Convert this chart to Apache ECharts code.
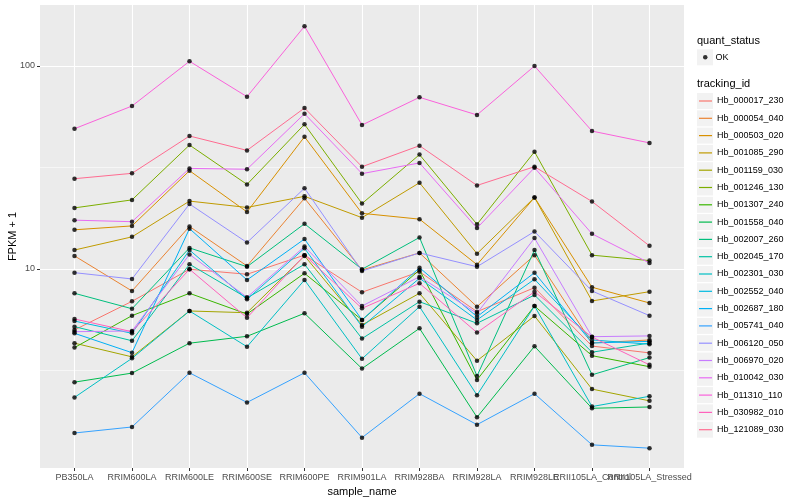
<!DOCTYPE html>
<html><head><meta charset="utf-8">
<script src="https://cdn.jsdelivr.net/npm/echarts@6/dist/echarts.min.js"></script>
<style>html,body{margin:0;padding:0;background:#fff}#c{width:800px;height:500px}</style>
</head><body><div id="c"></div>
<script>
const sampleNames = ['PB350LA','RRIM600LA','RRIM600LE','RRIM600SE','RRIM600PE','RRIM901LA','RRIM928BA','RRIM928LA','RRIM928LE','RRII105LA_Control','RRII105LA_Stressed'];
const trackingIds = ['Hb_000017_230','Hb_000054_040','Hb_000503_020','Hb_001085_290','Hb_001159_030','Hb_001246_130','Hb_001307_240','Hb_001558_040','Hb_002007_260','Hb_002045_170','Hb_002301_030','Hb_002552_040','Hb_002687_180','Hb_005741_040','Hb_006120_050','Hb_006970_020','Hb_010042_030','Hb_011310_110','Hb_030982_010','Hb_121089_030'];
const trackingColors = ['#F8766D','#EA8331','#D89000','#C09B00','#A3A500','#7CAE00','#39B600','#00BB4E','#00BF7D','#00C1A3','#00BFC4','#00BAE0','#00B0F6','#35A2FF','#9590FF','#C77CFF','#E76BF3','#FA62DB','#FF62BC','#FF6C91'];

// FPKM + 1 values per tracking id, one per sample
const hb_000017_230 = [5.01, 6.93, 9.97, 9.42, 11.7, 7.68, 9.70, 6.16, 8.09, 4.17, 3.86];
const hb_000054_040 = [11.6, 7.79, 16.2, 10.35, 22.3, 9.89, 12.0, 6.52, 11.7, 4.32, 4.47];
const hb_000503_020 = [15.6, 16.3, 30.5, 19.1, 44.8, 18.8, 17.6, 10.5, 22.5, 8.13, 6.80];
const hb_001085_290 = [12.4, 14.4, 21.6, 20.1, 22.8, 17.9, 26.6, 11.9, 22.5, 6.96, 7.73];
const hb_001159_030 = [4.31, 3.69, 6.21, 6.09, 11.6, 5.30, 7.59, 3.53, 5.87, 2.56, 2.24];
const hb_001246_130 = [20.0, 21.9, 40.8, 26.1, 51.6, 21.0, 36.6, 16.6, 37.8, 11.7, 11.0];
const hb_001307_240 = [4.10, 5.89, 7.59, 6.00, 9.52, 5.61, 9.89, 2.84, 6.57, 3.74, 3.30];
const hb_001558_040 = [2.77, 3.07, 4.31, 4.66, 6.05, 3.23, 5.10, 1.86, 4.16, 2.06, 2.09];
const hb_002007_260 = [7.59, 6.37, 12.7, 10.26, 16.7, 9.97, 14.3, 2.97, 12.4, 3.01, 3.66];
const hb_002045_170 = [5.20, 4.43, 10.55, 7.20, 10.55, 4.54, 6.90, 5.40, 7.44, 3.89, 4.32];
const hb_002301_030 = [2.33, 3.63, 6.21, 4.14, 8.83, 3.61, 6.52, 2.39, 6.57, 2.10, 2.36];
const hb_002552_040 = [5.54, 4.82, 12.4, 7.09, 12.65, 5.20, 9.00, 5.61, 8.90, 4.47, 4.26];
const hb_002687_180 = [4.82, 3.87, 15.8, 8.83, 14.05, 5.61, 10.15, 5.82, 9.59, 4.32, 4.40];
const hb_005741_040 = [1.556, 1.666, 3.08, 2.20, 3.08, 1.476, 2.43, 1.71, 2.43, 1.36, 1.31];
const hb_006120_050 = [9.59, 8.93, 20.9, 13.5, 25.0, 9.77, 12.0, 10.26, 15.3, 7.79, 5.89];
const hb_006970_020 = [4.91, 4.95, 11.8, 7.25, 12.9, 6.57, 9.16, 6.05, 14.2, 4.64, 4.68];
const hb_010042_030 = [17.4, 17.1, 31.3, 31.0, 58.2, 29.5, 33.3, 15.9, 31.55, 14.9, 10.7];
const hb_011310_110 = [49.1, 63.5, 105.5, 70.6, 157, 51.2, 70.1, 57.4, 100, 47.8, 41.8];
const hb_030982_010 = [5.67, 4.91, 9.97, 5.75, 11.7, 6.40, 8.50, 4.86, 7.73, 4.62, 3.37];
const hb_121089_030 = [27.85, 29.6, 45.2, 38.4, 62.1, 31.9, 40.5, 25.8, 31.9, 21.5, 13.0];

const seriesValues = [hb_000017_230, hb_000054_040, hb_000503_020, hb_001085_290, hb_001159_030, hb_001246_130, hb_001307_240, hb_001558_040, hb_002007_260, hb_002045_170, hb_002301_030, hb_002552_040, hb_002687_180, hb_005741_040, hb_006120_050, hb_006970_020, hb_010042_030, hb_011310_110, hb_030982_010, hb_121089_030];

const yMajorTicks = [10, 100];
const yMinorTicks = [3.1623, 31.623];
const yMin = 1.046, yMax = 199.8;

const FONT = '"Liberation Sans", Arial, Helvetica, sans-serif';
const xIdx = sampleNames.map((_, i) => i);
const xEven = xIdx.filter(i => i % 2 === 0);
const xOdd = xIdx.filter(i => i % 2 === 1);

const lineSeries = seriesValues.map((vals, k) => ({
  type: 'line',
  name: trackingIds[k],
  data: vals.map((v, i) => [i, v]),
  symbol: 'none',
  color: trackingColors[k],
  lineStyle: { width: 1, color: trackingColors[k] },
  itemStyle: { color: trackingColors[k] },
  z: 2,
  silent: true
}));

const pointData = [];
seriesValues.forEach(vals => vals.forEach((v, i) => pointData.push([i, v])));

const keyRects = [];
keyRects.push({ type: 'rect', shape: { x: 697, y: 49.3, width: 16, height: 16 }, style: { fill: '#F2F2F2' }, z: 0 });
trackingIds.forEach((id, i) => {
  keyRects.push({ type: 'rect', shape: { x: 697, y: 101 + i * 17.3 - 8, width: 16, height: 16 }, style: { fill: '#F2F2F2' }, z: 0 });
});

const xLabelStyle = { formatter: v => sampleNames[Math.round(v)], margin: 5, color: '#4D4D4D', fontSize: 9, fontFamily: FONT, hideOverlap: false, showMinLabel: true, showMaxLabel: true };

const chart = echarts.init(document.getElementById('c'), null, { renderer: 'canvas' });
chart.setOption({
  animation: false,
  backgroundColor: '#ffffff',
  textStyle: { fontFamily: FONT },
  grid: { left: 40, right: 116, top: 5, bottom: 32, show: true, backgroundColor: '#EBEBEB', borderWidth: 0, containLabel: false, outerBoundsMode: 'none' },
  xAxis: [{
    type: 'value', min: -0.6, max: 10.6, position: 'bottom',
    name: 'sample_name', nameLocation: 'middle', nameGap: 13,
    nameTextStyle: { color: '#000', fontSize: 11, fontFamily: FONT, verticalAlign: 'top' },
    axisLine: { show: false, onZero: false },
    axisTick: { show: true, length: 3, lineStyle: { color: '#333333', width: 1 }, customValues: xIdx },
    axisLabel: Object.assign({ customValues: xEven }, xLabelStyle),
    splitLine: { show: true, lineStyle: { color: '#ffffff', width: 1.1 } },
    minorSplitLine: { show: false }
  }, {
    type: 'value', min: -0.6, max: 10.6, position: 'bottom', offset: 0,
    axisLine: { show: false, onZero: false },
    axisTick: { show: false, customValues: xOdd },
    axisLabel: Object.assign({ customValues: xOdd }, xLabelStyle),
    splitLine: { show: false }
  }],
  yAxis: [{
    type: 'log', logBase: 10, min: yMin, max: yMax,
    name: 'FPKM + 1', nameLocation: 'middle', nameGap: 22, nameRotate: 90, nameMoveOverlap: false,
    nameTextStyle: { color: '#000', fontSize: 11, fontFamily: FONT },
    axisLine: { show: false, onZero: false },
    axisTick: { show: true, length: 3, lineStyle: { color: '#333333', width: 1 }, customValues: yMajorTicks },
    axisLabel: { customValues: yMajorTicks, margin: 5, color: '#4D4D4D', fontSize: 9, fontFamily: FONT, showMinLabel: true, showMaxLabel: true },
    splitLine: { show: true, lineStyle: { color: '#ffffff', width: 1.1 } },
    minorSplitLine: { show: false }
  }, {
    type: 'log', logBase: 10, min: yMin, max: yMax, position: 'left',
    axisLine: { show: false, onZero: false },
    axisTick: { show: false, customValues: yMinorTicks },
    axisLabel: { show: false, customValues: yMinorTicks },
    splitLine: { show: true, lineStyle: { color: '#ffffff', width: 0.55 } }
  }],
  legend: [{
    data: trackingIds.map(n => ({ name: n, icon: 'rect' })),
    orient: 'vertical', left: 699, top: 96, padding: 0,
    itemWidth: 13, itemHeight: 1.2, itemGap: 7.3,
    selectedMode: false,
    textStyle: { fontSize: 9, lineHeight: 10, color: '#000', fontFamily: FONT }
  }, {
    data: [{ name: 'OK', icon: 'circle' }],
    orient: 'vertical', left: 703, top: 52.3, padding: 0,
    itemWidth: 4.5, itemHeight: 4.5, selectedMode: false,
    textStyle: { fontSize: 9, lineHeight: 10, color: '#000', fontFamily: FONT, padding: [0, 0, 0, 3] }
  }],
  graphic: keyRects.concat([
    { type: 'text', x: 697, y: 40.7, style: { text: 'quant_status', fontSize: 11, fontFamily: FONT, fill: '#000', verticalAlign: 'middle' }, z: 1 },
    { type: 'text', x: 697, y: 84.3, style: { text: 'tracking_id', fontSize: 11, fontFamily: FONT, fill: '#000', verticalAlign: 'middle' }, z: 1 }
  ]),
  series: lineSeries.concat([{
    type: 'scatter', name: 'OK', data: pointData,
    symbol: 'circle', symbolSize: 4.5,
    itemStyle: { color: '#000000' },
    z: 3, silent: true
  }])
});
</script>
</body></html>
